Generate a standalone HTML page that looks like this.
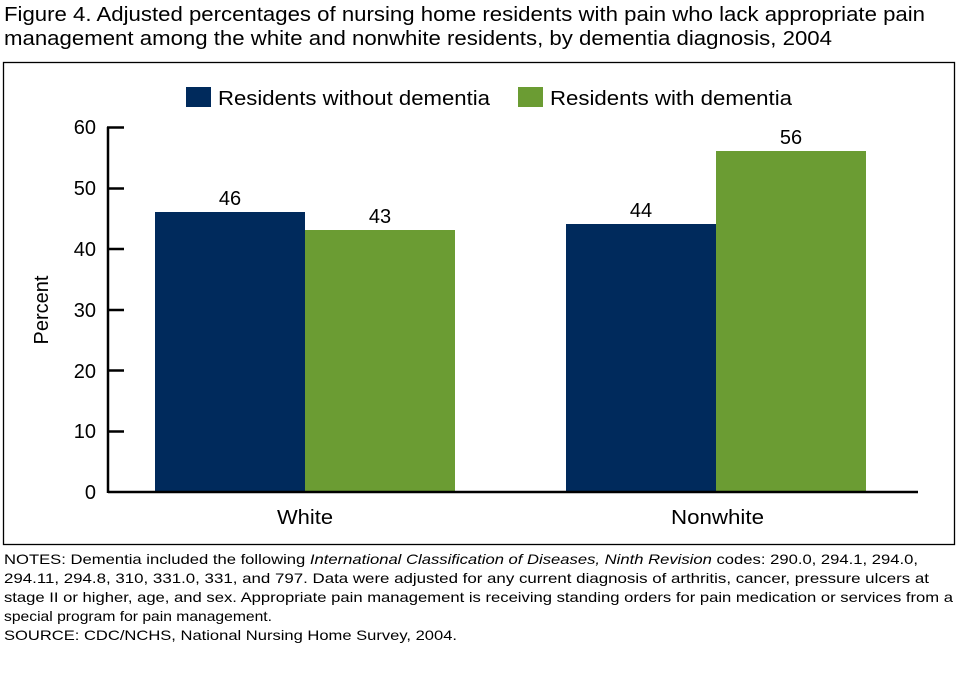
<!DOCTYPE html>
<html><head><style>
body{margin:0;background:#fff;width:960px;height:677px;overflow:hidden;}
</style></head><body>
<svg width="960" height="677" style="position:absolute;left:0;top:0" font-family="Liberation Sans, Arial, sans-serif">
<text x="4" y="21" font-size="20" textLength="921" lengthAdjust="spacingAndGlyphs">Figure 4. Adjusted percentages of nursing home residents with pain who lack appropriate pain</text>
<text x="4" y="45" font-size="20" textLength="828" lengthAdjust="spacingAndGlyphs">management among the white and nonwhite residents, by dementia diagnosis, 2004</text>
<rect x="3.5" y="62.5" width="951" height="482" fill="none" stroke="#000" stroke-width="1.3"/>
<rect x="186" y="87" width="25" height="20" fill="#002a5c"/>
<text x="218" y="105" font-size="20" textLength="272" lengthAdjust="spacingAndGlyphs">Residents without dementia</text>
<rect x="518" y="87" width="25" height="20" fill="#6b9c33"/>
<text x="550" y="105" font-size="20" textLength="242" lengthAdjust="spacingAndGlyphs">Residents with dementia</text>
<g font-size="20" text-anchor="end">
<text x="96" y="134">60</text><text x="96" y="195">50</text><text x="96" y="256">40</text>
<text x="96" y="317">30</text><text x="96" y="378">20</text><text x="96" y="438">10</text><text x="96" y="499">0</text>
</g>
<text transform="translate(48,310) rotate(-90)" font-size="20" text-anchor="middle">Percent</text>
<rect x="155" y="212" width="150" height="280" fill="#002a5c"/>
<rect x="305" y="230" width="150" height="262" fill="#6b9c33"/>
<rect x="566" y="224" width="150" height="268" fill="#002a5c"/>
<rect x="716" y="151" width="150" height="341" fill="#6b9c33"/>
<g font-size="20" text-anchor="middle">
<text x="230" y="205">46</text><text x="380" y="223">43</text>
<text x="641" y="217">44</text><text x="791" y="144">56</text>
</g>
<text x="277" y="524" font-size="20" textLength="56" lengthAdjust="spacingAndGlyphs">White</text>
<text x="671" y="524" font-size="20" textLength="93" lengthAdjust="spacingAndGlyphs">Nonwhite</text>
<g stroke="#000" stroke-width="2.5" fill="none">
<path d="M108 127V493M108 492H918"/>
<path d="M107 127.5H124M107 188.5H124M107 249H124M107 310H124M107 370.5H124M107 431.5H124"/>
</g>
<g font-size="14" lengthAdjust="spacingAndGlyphs">
<text x="4" y="564" textLength="914" lengthAdjust="spacingAndGlyphs">NOTES: Dementia included the following <tspan font-style="italic">International Classification of Diseases, Ninth Revision</tspan> codes: 290.0, 294.1, 294.0,</text>
<text x="4" y="583" textLength="925" lengthAdjust="spacingAndGlyphs">294.11, 294.8, 310, 331.0, 331, and 797. Data were adjusted for any current diagnosis of arthritis, cancer, pressure ulcers at</text>
<text x="4" y="602" textLength="949" lengthAdjust="spacingAndGlyphs">stage II or higher, age, and sex. Appropriate pain management is receiving standing orders for pain medication or services from a</text>
<text x="4" y="621" textLength="268" lengthAdjust="spacingAndGlyphs">special program for pain management.</text>
<text x="4" y="640" textLength="453" lengthAdjust="spacingAndGlyphs">SOURCE: CDC/NCHS, National Nursing Home Survey, 2004.</text>
</g>
</svg>
</body></html>
